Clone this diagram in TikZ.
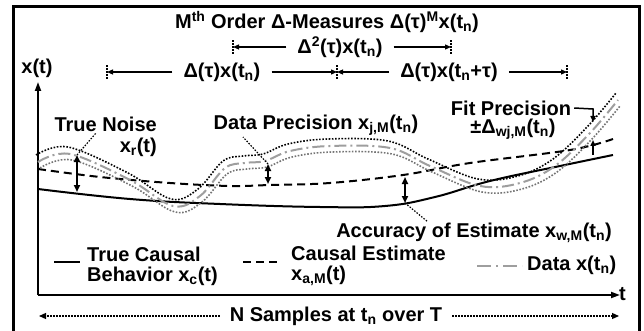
\documentclass[tikz,border=0pt]{standalone}
\usepackage{fontspec}
\setmainfont{Liberation Sans}
\usetikzlibrary{arrows.meta}
\definecolor{datagray}{gray}{0.62}
\definecolor{envgray}{gray}{0.45}
\begin{document}
\begin{tikzpicture}[x=1pt,y=-1pt,
  txt/.style={font=\bfseries\fontsize{20}{20}\selectfont, inner sep=0pt},
  tickmark/.style={line width=1.2pt, dash pattern=on 1.5pt off 1.5pt},
  meas/.style={line width=1.2pt, -{Triangle[length=6pt,width=5pt]}},
  axisline/.style={line width=1.8pt, -{Triangle[length=9pt,width=6pt]}},
  truec/.style={line width=2pt},
  estc/.style={line width=2pt, dash pattern=on 8pt off 5pt},
  datac/.style={line width=2pt, datagray, dash pattern=on 12pt off 4pt on 2pt off 4pt},
  envup/.style={line width=1.6pt, dash pattern=on 1.6pt off 1.6pt},
  envlo/.style={line width=1.6pt, envgray, dash pattern=on 1.6pt off 1.6pt},
  dbl/.style={line width=1.8pt, {Triangle[length=7pt,width=6pt]}-{Triangle[length=7pt,width=6pt]}},
  lead/.style={line width=1.2pt, dash pattern=on 1.5pt off 1.5pt},
  sampl/.style={line width=1.2pt, dash pattern=on 1.5pt off 1.5pt, -{Triangle[length=7pt,width=6pt]}},
]
\useasboundingbox (0,0) rectangle (644,331);
\draw[line width=3pt] (13,7) rectangle (639,340);

% axes
\coordinate (O) at (38,295);
\coordinate (Ytip) at (38,82);
\coordinate (Xtip) at (620,295);
\draw[axisline] (O) -- (Ytip);
\draw[axisline] (O) -- (Xtip);
\node[txt] (xt) at (37,68) {x(t)};
\node[txt, anchor=west] (tl) at (619,294) {t};

% title
\node[txt] (title) at (327,22) {M\textsuperscript{th} Order Δ-Measures Δ(τ)\textsuperscript{M}x(t\textsubscript{n})};

% row 2
\coordinate (ta) at (233,47);
\coordinate (tb) at (451,47);
\node[txt, inner xsep=11pt] (dd) at (340,47) {Δ\textsuperscript{2}(τ)x(t\textsubscript{n})};
\draw[tickmark] ([yshift=-7pt]ta) -- ([yshift=7pt]ta);
\draw[tickmark] ([yshift=-7pt]tb) -- ([yshift=7pt]tb);
\draw[meas] (dd.west) -- (ta);
\draw[meas] (dd.east) -- (tb);

% row 3
\coordinate (tc) at (107,72);
\coordinate (td) at (337,72);
\coordinate (te) at (567,72);
\node[txt, inner xsep=11pt] (d1) at (222,72) {Δ(τ)x(t\textsubscript{n})};
\node[txt, inner xsep=11pt] (d2) at (449,72) {Δ(τ)x(t\textsubscript{n}+τ)};
\draw[tickmark] ([yshift=-7pt]tc) -- ([yshift=7pt]tc);
\draw[tickmark] ([yshift=-7pt]td) -- ([yshift=7pt]td);
\draw[tickmark] ([yshift=-7pt]te) -- ([yshift=7pt]te);
\draw[meas] (d1.west) -- (tc);
\draw[meas] (d1.east) -- (td);
\draw[meas] (d2.west) -- (td);
\draw[meas] (d2.east) -- (te);

% curves
\draw[truec] plot[smooth, tension=0.7] coordinates {(38,189) (130,199) (220,204) (320,207) (385,206) (435,197) (490,181) (560,166) (613,155)};
\draw[estc] plot[smooth, tension=0.6] coordinates {(38,169) (100,177) (170,183) (230,186) (270,185) (330,183) (403,175) (470,163) (570,150) (613,139)};
\draw[envup, shift={(-2,-7)}] plot[smooth, tension=0.6] coordinates {(38,162) (70,154) (130,180) (173,206) (200,196) (225,168) (245,163) (265,161) (290,151) (330,146) (390,148) (430,166) (480,186) (520,183) (555,166) (590,133) (618,100)};
\draw[envlo, shift={(2,6)}] plot[smooth, tension=0.6] coordinates {(38,162) (70,154) (130,180) (173,206) (200,196) (225,168) (245,163) (265,161) (290,151) (330,146) (390,148) (430,166) (480,186) (520,183) (555,166) (590,133) (618,100)};
\draw[datac] plot[smooth, tension=0.6] coordinates {(38,162) (70,154) (130,180) (173,206) (200,196) (225,168) (245,163) (265,161) (290,151) (330,146) (390,148) (430,166) (480,186) (520,183) (555,166) (590,133) (618,100)};

% True noise
\coordinate (na) at (77,155);
\coordinate (nb) at (77,192);
\draw[dbl] (na) -- (nb);
\node[txt, align=right, anchor=east, font=\bfseries\fontsize{20}{21}\selectfont] (noise) at (157,137) {True Noise\\x\textsubscript{r}(t)};
\coordinate (nl) at (96,133);
\draw[lead] (na) -- (nl);

% Data precision
\coordinate (pa) at (268,164);
\coordinate (pb) at (268,184);
\draw[dbl] (pa) -- (pb);
\node[txt] (prec) at (316,125) {Data Precision x\textsubscript{j,M}(t\textsubscript{n})};
\coordinate (pl) at (243,137);
\draw[lead] (pa) -- (pl);

% Accuracy
\coordinate (aa) at (405,177);
\coordinate (ab) at (405,203);
\draw[dbl] (aa) -- (ab);
\node[txt, anchor=east] (acc) at (612,233) {Accuracy of Estimate x\textsubscript{w,M}(t\textsubscript{n})};
\coordinate (al) at (428,222);
\draw[lead] (ab) -- (al);

% Fit precision
\node[txt] (fit) at (511,108) {Fit Precision};
\node[txt] (fitv) at (513,129) {±Δ\textsubscript{wj,M}(t\textsubscript{n})};
\coordinate (fa) at (593,109);
\coordinate (fb) at (593,122);
\coordinate (fc) at (593,155);
\coordinate (fd) at (593,140);
\draw[line width=1.5pt, -{Triangle[length=6pt,width=5pt]}] ([xshift=3pt]fit.east) -- (fa) -- (fb);
\draw[line width=1.5pt, -{Triangle[length=6pt,width=5pt]}] (fc) -- (fd);

% legend
\coordinate (l1a) at (54,262); \coordinate (l1b) at (80,262);
\draw[truec] (l1a) -- (l1b);
\node[txt, align=left, anchor=west, font=\bfseries\fontsize{20}{20}\selectfont] (lg1) at (87,266) {True Causal\\Behavior x\textsubscript{c}(t)};
\coordinate (l2a) at (243,262); \coordinate (l2b) at (279,262);
\draw[estc] (l2a) -- (l2b);
\node[txt, align=left, anchor=west, font=\bfseries\fontsize{20}{20}\selectfont] (lg2) at (291,266) {Causal Estimate\\x\textsubscript{a,M}(t)};
\coordinate (l3a) at (477,266); \coordinate (l3b) at (522,266);
\draw[datac, dash pattern=on 14pt off 5pt on 2pt off 5pt] (l3a) -- (l3b);
\node[txt, anchor=west] (lg3) at (527,265) {Data x(t\textsubscript{n})};

% samples
\coordinate (bl) at (39,316);
\coordinate (br) at (619,316);
\node[txt, inner xsep=10pt] (ns) at (336,316) {N Samples at t\textsubscript{n} over T};
\draw[sampl] (ns.west) -- (bl);
\draw[sampl] (ns.east) -- (br);
\end{tikzpicture}
\end{document}
